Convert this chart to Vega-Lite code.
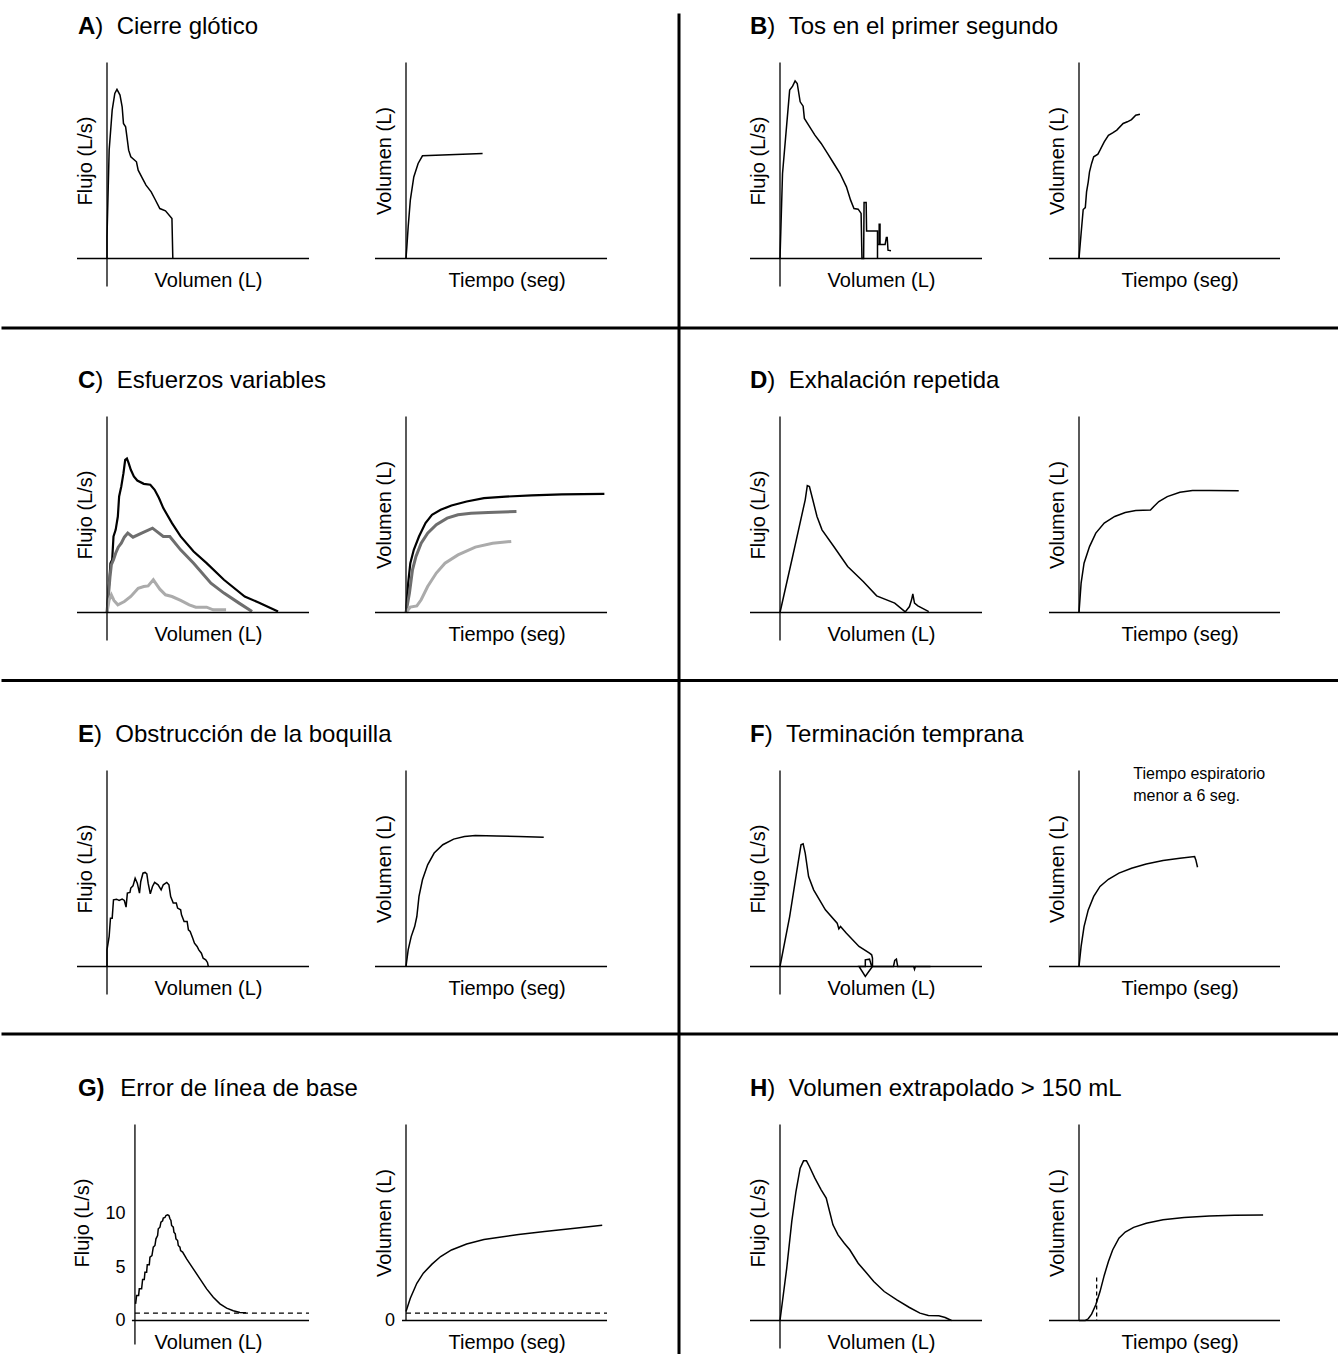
{
"$schema": "https://vega.github.io/schema/vega-lite/v6.json",
"background": "white",
"padding": {"left": 0, "top": 11.5, "right": 0, "bottom": 0},
"columns": 4,
"spacing": {"row": 158, "column": 97},
"bounds": "flush",
"config": {
  "font": "Liberation Sans",
  "view": {"stroke": null},
  "axis": {"domain": false, "ticks": false, "labels": false, "grid": false, "titleFontSize": 20, "titleFontWeight": "normal", "titleColor": "black", "titlePadding": 12, "minExtent": 0, "labelFontSize": 18, "labelColor": "black", "labelPadding": 10},
  "line": {"color": "black", "strokeWidth": 1.5},
  "rule": {"color": "black", "strokeWidth": 1.3},
  "text": {"color": "black", "align": "left", "baseline": "alphabetic", "fontSize": 24}
},
"datasets": {
  "A1": [{"x":0,"y":0},{"x":0,"y":2.03},{"x":0.064,"y":10.17},{"x":0.154,"y":13.93},{"x":0.232,"y":15.49},{"x":0.296,"y":15.87},{"x":0.386,"y":15.34},{"x":0.45,"y":14.24},{"x":0.489,"y":12.68},{"x":0.553,"y":12.36},{"x":0.605,"y":11.11},{"x":0.643,"y":10.17},{"x":0.707,"y":9.55},{"x":0.875,"y":9.08},{"x":0.926,"y":8.29},{"x":1.029,"y":7.67},{"x":1.158,"y":6.89},{"x":1.312,"y":6.26},{"x":1.415,"y":5.63},{"x":1.569,"y":4.69},{"x":1.737,"y":4.48},{"x":1.929,"y":3.76},{"x":1.955,"y":0}],
  "A2": [{"x":0,"y":0},{"x":0.043,"y":0.48},{"x":0.108,"y":1.29},{"x":0.215,"y":2.38},{"x":0.388,"y":3.33},{"x":0.603,"y":3.88},{"x":0.819,"y":4.19},{"x":3.81,"y":4.29}],
  "B1": [{"x":0,"y":0},{"x":0.075,"y":7.98},{"x":0.287,"y":15.81},{"x":0.375,"y":16.18},{"x":0.449,"y":16.68},{"x":0.512,"y":16.43},{"x":0.599,"y":14.71},{"x":0.687,"y":14.3},{"x":0.724,"y":13.15},{"x":0.849,"y":12.52},{"x":1.036,"y":11.58},{"x":1.223,"y":10.8},{"x":1.411,"y":9.86},{"x":1.598,"y":8.92},{"x":1.785,"y":7.98},{"x":1.973,"y":6.73},{"x":2.097,"y":5.48},{"x":2.197,"y":4.69},{"x":2.322,"y":4.63},{"x":2.409,"y":4.23},{"x":2.434,"y":0},{"x":2.484,"y":0},{"x":2.497,"y":5.26},{"x":2.559,"y":5.26},{"x":2.572,"y":2.57},{"x":2.896,"y":2.57},{"x":2.896,"y":0},{"x":2.896,"y":1.31},{"x":2.946,"y":1.31},{"x":2.946,"y":3.22},{"x":2.971,"y":3.22},{"x":2.971,"y":1.31},{"x":3.121,"y":1.31},{"x":3.159,"y":1.97},{"x":3.184,"y":1.97},{"x":3.208,"y":0.78},{"x":3.296,"y":0.72}],
  "B2": [{"x":0,"y":0},{"x":0.105,"y":1.02},{"x":0.209,"y":2.0},{"x":0.314,"y":2.08},{"x":0.376,"y":2.72},{"x":0.46,"y":3.13},{"x":0.523,"y":3.54},{"x":0.627,"y":3.88},{"x":0.732,"y":4.15},{"x":0.941,"y":4.26},{"x":1.046,"y":4.42},{"x":1.255,"y":4.76},{"x":1.464,"y":5.03},{"x":1.673,"y":5.13},{"x":1.882,"y":5.24},{"x":2.196,"y":5.51},{"x":2.405,"y":5.58},{"x":2.614,"y":5.67},{"x":2.823,"y":5.85},{"x":3.032,"y":5.89}],
  "C1a": [{"x":0,"y":0},{"x":0.064,"y":2.75},{"x":0.103,"y":4.63},{"x":0.154,"y":4.95},{"x":0.193,"y":7.14},{"x":0.257,"y":7.76},{"x":0.322,"y":9.01},{"x":0.36,"y":10.89},{"x":0.424,"y":11.83},{"x":0.489,"y":13.08},{"x":0.54,"y":14.33},{"x":0.592,"y":14.46},{"x":0.643,"y":14.02},{"x":0.707,"y":13.4},{"x":0.798,"y":12.77},{"x":0.9,"y":12.39},{"x":1.093,"y":12.08},{"x":1.286,"y":11.99},{"x":1.415,"y":11.52},{"x":1.544,"y":10.74},{"x":1.672,"y":9.8},{"x":1.93,"y":8.39},{"x":2.187,"y":7.14},{"x":2.573,"y":5.73},{"x":2.959,"y":4.63},{"x":3.473,"y":3.07},{"x":4.091,"y":1.5},{"x":4.502,"y":0.94},{"x":5.081,"y":0.09}],
  "C1b": [{"x":0,"y":0},{"x":0.09,"y":3.38},{"x":0.129,"y":4.48},{"x":0.193,"y":4.95},{"x":0.257,"y":5.57},{"x":0.334,"y":6.13},{"x":0.424,"y":6.51},{"x":0.515,"y":7.07},{"x":0.617,"y":7.45},{"x":0.772,"y":7.07},{"x":1.029,"y":7.45},{"x":1.351,"y":7.92},{"x":1.672,"y":7.14},{"x":1.865,"y":7.14},{"x":2.187,"y":5.88},{"x":2.573,"y":4.63},{"x":3.087,"y":2.75},{"x":3.473,"y":1.82},{"x":3.923,"y":0.88},{"x":4.309,"y":0.09}],
  "C1c": [{"x":0,"y":0},{"x":0.064,"y":1.19},{"x":0.129,"y":1.66},{"x":0.206,"y":1.13},{"x":0.322,"y":0.72},{"x":0.515,"y":1.03},{"x":0.707,"y":1.5},{"x":0.926,"y":2.28},{"x":1.093,"y":2.44},{"x":1.222,"y":2.5},{"x":1.376,"y":3.07},{"x":1.479,"y":2.6},{"x":1.569,"y":2.19},{"x":1.737,"y":1.66},{"x":1.93,"y":1.5},{"x":2.187,"y":1.13},{"x":2.444,"y":0.72},{"x":2.637,"y":0.5},{"x":2.959,"y":0.5},{"x":3.152,"y":0.25},{"x":3.537,"y":0.25}],
  "C2a": [{"x":0,"y":0},{"x":0.108,"y":1.2},{"x":0.215,"y":2.01},{"x":0.388,"y":2.56},{"x":0.646,"y":3.1},{"x":0.97,"y":3.65},{"x":1.293,"y":3.99},{"x":1.724,"y":4.19},{"x":2.262,"y":4.37},{"x":3.017,"y":4.53},{"x":3.878,"y":4.67},{"x":4.956,"y":4.73},{"x":6.249,"y":4.78},{"x":7.757,"y":4.82},{"x":9.869,"y":4.84}],
  "C2b": [{"x":0,"y":0},{"x":0.172,"y":0.79},{"x":0.323,"y":1.74},{"x":0.496,"y":2.29},{"x":0.754,"y":2.83},{"x":1.077,"y":3.24},{"x":1.508,"y":3.58},{"x":2.047,"y":3.85},{"x":2.586,"y":3.99},{"x":3.232,"y":4.05},{"x":4.094,"y":4.08},{"x":5.495,"y":4.12}],
  "C2c": [{"x":0,"y":0},{"x":0.215,"y":0.22},{"x":0.539,"y":0.27},{"x":0.754,"y":0.52},{"x":1.077,"y":1.06},{"x":1.508,"y":1.61},{"x":1.939,"y":2.01},{"x":2.586,"y":2.35},{"x":3.448,"y":2.67},{"x":4.31,"y":2.83},{"x":5.236,"y":2.9}],
  "D1": [{"x":0,"y":0},{"x":0.375,"y":5.26},{"x":0.749,"y":10.58},{"x":0.811,"y":11.92},{"x":0.874,"y":11.83},{"x":0.974,"y":10.58},{"x":1.099,"y":9.01},{"x":1.248,"y":7.76},{"x":1.598,"y":6.2},{"x":2.01,"y":4.32},{"x":2.472,"y":2.91},{"x":2.871,"y":1.56},{"x":3.408,"y":0.88},{"x":3.72,"y":0.06},{"x":3.845,"y":0.56},{"x":3.908,"y":1.19},{"x":3.945,"y":1.75},{"x":3.995,"y":0.88},{"x":4.095,"y":0.63},{"x":4.419,"y":0.09}],
  "D2": [{"x":0,"y":0},{"x":0.105,"y":1.2},{"x":0.251,"y":2.01},{"x":0.523,"y":2.69},{"x":0.836,"y":3.24},{"x":1.255,"y":3.65},{"x":1.777,"y":3.92},{"x":2.3,"y":4.08},{"x":2.823,"y":4.16},{"x":3.555,"y":4.18},{"x":3.722,"y":4.33},{"x":3.973,"y":4.53},{"x":4.391,"y":4.73},{"x":5.019,"y":4.91},{"x":5.646,"y":4.98},{"x":6.483,"y":4.98},{"x":7.946,"y":4.97}],
  "E1": [{"x":0,"y":0},{"x":0,"y":1.56},{"x":0.064,"y":2.82},{"x":0.103,"y":4.54},{"x":0.154,"y":4.54},{"x":0.193,"y":6.26},{"x":0.283,"y":6.32},{"x":0.36,"y":6.2},{"x":0.45,"y":6.32},{"x":0.515,"y":6.2},{"x":0.566,"y":5.57},{"x":0.605,"y":6.89},{"x":0.682,"y":6.95},{"x":0.707,"y":7.36},{"x":0.772,"y":7.57},{"x":0.836,"y":8.29},{"x":0.9,"y":7.82},{"x":0.965,"y":6.89},{"x":1.003,"y":7.98},{"x":1.068,"y":8.76},{"x":1.132,"y":8.83},{"x":1.183,"y":8.7},{"x":1.222,"y":7.82},{"x":1.286,"y":6.82},{"x":1.351,"y":7.51},{"x":1.415,"y":7.89},{"x":1.518,"y":7.67},{"x":1.608,"y":7.2},{"x":1.672,"y":7.67},{"x":1.775,"y":7.89},{"x":1.839,"y":7.67},{"x":1.891,"y":6.57},{"x":1.968,"y":5.95},{"x":2.058,"y":5.95},{"x":2.097,"y":5.48},{"x":2.187,"y":5.32},{"x":2.213,"y":4.85},{"x":2.29,"y":4.23},{"x":2.38,"y":4.23},{"x":2.418,"y":3.44},{"x":2.47,"y":3.29},{"x":2.547,"y":2.66},{"x":2.598,"y":2.19},{"x":2.676,"y":1.88},{"x":2.727,"y":1.56},{"x":2.804,"y":1.25},{"x":2.856,"y":0.78},{"x":2.933,"y":0.63},{"x":2.984,"y":0.38},{"x":3.01,"y":0}],
  "E2": [{"x":0,"y":0},{"x":0.108,"y":0.68},{"x":0.259,"y":1.22},{"x":0.431,"y":1.63},{"x":0.539,"y":2.04},{"x":0.646,"y":2.86},{"x":0.819,"y":3.54},{"x":1.077,"y":4.15},{"x":1.401,"y":4.63},{"x":1.832,"y":4.97},{"x":2.37,"y":5.2},{"x":2.909,"y":5.31},{"x":3.448,"y":5.35},{"x":4.525,"y":5.33},{"x":5.602,"y":5.31},{"x":6.852,"y":5.28}],
  "F1": [{"x":0,"y":0},{"x":0.287,"y":4.69},{"x":0.537,"y":9.7},{"x":0.624,"y":11.42},{"x":0.687,"y":11.52},{"x":0.749,"y":10.64},{"x":0.849,"y":8.45},{"x":0.999,"y":7.2},{"x":1.348,"y":5.32},{"x":1.698,"y":4.07},{"x":1.748,"y":3.54},{"x":1.798,"y":3.76},{"x":1.973,"y":3.13},{"x":2.347,"y":1.88},{"x":2.659,"y":1.25},{"x":2.722,"y":1.1},{"x":2.747,"y":0.78},{"x":2.747,"y":0},{"x":2.659,"y":-0.38},{"x":2.534,"y":-0.94},{"x":2.347,"y":0},{"x":2.534,"y":0},{"x":2.534,"y":0.63},{"x":2.659,"y":0.69},{"x":2.722,"y":0},{"x":3.371,"y":0},{"x":3.408,"y":0.56},{"x":3.458,"y":0.69},{"x":3.496,"y":0},{"x":3.97,"y":0},{"x":3.995,"y":-0.25},{"x":4.02,"y":0},{"x":4.469,"y":0}],
  "F2": [{"x":0,"y":0},{"x":0.105,"y":0.82},{"x":0.251,"y":1.63},{"x":0.46,"y":2.31},{"x":0.732,"y":2.86},{"x":1.046,"y":3.27},{"x":1.464,"y":3.56},{"x":1.987,"y":3.81},{"x":2.614,"y":4.01},{"x":3.346,"y":4.18},{"x":4.182,"y":4.33},{"x":5.019,"y":4.42},{"x":5.751,"y":4.49},{"x":5.813,"y":4.35},{"x":5.897,"y":4.05}],
  "G1": [{"x":0.02,"y":1.56},{"x":0.05,"y":2.35},{"x":0.109,"y":2.35},{"x":0.129,"y":2.97},{"x":0.198,"y":2.97},{"x":0.228,"y":3.85},{"x":0.277,"y":3.85},{"x":0.297,"y":4.54},{"x":0.347,"y":4.54},{"x":0.366,"y":5.23},{"x":0.426,"y":5.23},{"x":0.446,"y":5.95},{"x":0.505,"y":6.1},{"x":0.545,"y":6.89},{"x":0.594,"y":7.04},{"x":0.624,"y":7.67},{"x":0.673,"y":7.98},{"x":0.693,"y":8.61},{"x":0.743,"y":8.76},{"x":0.772,"y":9.23},{"x":0.822,"y":9.36},{"x":0.842,"y":9.61},{"x":0.891,"y":9.67},{"x":0.921,"y":9.86},{"x":0.97,"y":9.92},{"x":1.01,"y":9.86},{"x":1.04,"y":9.55},{"x":1.069,"y":9.39},{"x":1.089,"y":8.92},{"x":1.139,"y":8.76},{"x":1.158,"y":8.29},{"x":1.198,"y":8.14},{"x":1.218,"y":7.67},{"x":1.267,"y":7.51},{"x":1.287,"y":7.04},{"x":1.337,"y":6.89},{"x":1.356,"y":6.57},{"x":1.416,"y":6.42},{"x":1.535,"y":5.79},{"x":1.733,"y":4.85},{"x":1.931,"y":3.91},{"x":2.129,"y":2.97},{"x":2.327,"y":2.19},{"x":2.525,"y":1.56},{"x":2.723,"y":1.16},{"x":2.921,"y":0.91},{"x":3.119,"y":0.75},{"x":3.297,"y":0.72}],
  "G2": [{"x":0,"y":0.37},{"x":0.215,"y":0.91},{"x":0.539,"y":1.52},{"x":0.862,"y":1.93},{"x":1.293,"y":2.3},{"x":1.724,"y":2.61},{"x":2.262,"y":2.88},{"x":3.017,"y":3.12},{"x":3.878,"y":3.31},{"x":4.74,"y":3.41},{"x":5.602,"y":3.51},{"x":6.895,"y":3.63},{"x":8.403,"y":3.77},{"x":9.761,"y":3.89}],
  "H1": [{"x":0,"y":0},{"x":0.2,"y":4.91},{"x":0.35,"y":9.3},{"x":0.474,"y":12.11},{"x":0.599,"y":14.3},{"x":0.699,"y":14.99},{"x":0.787,"y":14.99},{"x":0.874,"y":14.46},{"x":1.036,"y":13.36},{"x":1.223,"y":12.27},{"x":1.373,"y":11.49},{"x":1.473,"y":10.23},{"x":1.573,"y":8.98},{"x":1.723,"y":8.04},{"x":1.91,"y":7.26},{"x":2.072,"y":6.64},{"x":2.197,"y":6.01},{"x":2.322,"y":5.38},{"x":2.534,"y":4.6},{"x":2.784,"y":3.66},{"x":3.096,"y":2.72},{"x":3.471,"y":1.94},{"x":3.845,"y":1.22},{"x":4.157,"y":0.69},{"x":4.407,"y":0.47},{"x":4.719,"y":0.44},{"x":4.906,"y":0.28},{"x":5.094,"y":0}],
  "H2": [{"x":0,"y":0},{"x":0.314,"y":0},{"x":0.46,"y":0.07},{"x":0.627,"y":0.26},{"x":0.836,"y":0.64},{"x":1.046,"y":1.18},{"x":1.255,"y":1.84},{"x":1.464,"y":2.41},{"x":1.673,"y":2.88},{"x":1.987,"y":3.36},{"x":2.3,"y":3.61},{"x":2.719,"y":3.8},{"x":3.346,"y":3.97},{"x":4.182,"y":4.11},{"x":5.228,"y":4.2},{"x":6.483,"y":4.27},{"x":7.737,"y":4.3},{"x":9.159,"y":4.31}]
},
"concat": [
  {"width": 202, "height": 196, "data": {"values": [{}]}, "layer": [
    {"data": {"name": "A1"}, "mark": "line", "encoding": {"x": {"field": "x", "type": "quantitative", "scale": {"domain": [0, 6], "nice": false, "zero": false}, "axis": {"title": "Volumen (L)"}}, "y": {"field": "y", "type": "quantitative", "scale": {"domain": [0, 18.4], "nice": false, "zero": false}, "axis": {"title": "Flujo (L/s)"}}, "order": {"value": null}}},
    {"mark": {"type": "rule", "y2Offset": 28}, "encoding": {"x": {"datum": 0, "type": "quantitative"}, "y": {"datum": 18.4, "type": "quantitative"}, "y2": {"datum": 0}}},
    {"mark": {"type": "rule", "xOffset": -30}, "encoding": {"x": {"datum": 0, "type": "quantitative"}, "x2": {"datum": 6}, "y": {"datum": 0, "type": "quantitative"}}},
    {"mark": {"type": "text", "text": "A", "fontWeight": "bold", "dx": -29, "dy": -29}, "encoding": {"x": {"datum": 0, "type": "quantitative"}, "y": {"datum": 18.4, "type": "quantitative"}}},
    {"mark": {"type": "text", "text": ")\u00a0\u00a0Cierre glótico", "dx": -11.7, "dy": -29}, "encoding": {"x": {"datum": 0, "type": "quantitative"}, "y": {"datum": 18.4, "type": "quantitative"}}},
    {"mark": {"type": "rule", "strokeWidth": 3, "xOffset": -105.5, "x2Offset": 1029, "yOffset": 69.5}, "encoding": {"x": {"datum": 0, "type": "quantitative"}, "x2": {"datum": 6}, "y": {"datum": 0, "type": "quantitative"}}}
  ]},
  {"width": 277, "height": 196, "data": {"values": [{}]}, "layer": [
    {"data": {"name": "A2"}, "mark": "line", "encoding": {"x": {"field": "x", "type": "quantitative", "scale": {"domain": [0, 13.78], "nice": false, "zero": false}, "axis": {"title": "Tiempo (seg)", "titleX": 100.5}}, "y": {"field": "y", "type": "quantitative", "scale": {"domain": [0, 8], "nice": false, "zero": false}, "axis": {"title": "Volumen (L)"}}, "order": {"value": null}}},
    {"mark": "rule", "encoding": {"x": {"datum": 0, "type": "quantitative"}, "y": {"datum": 8, "type": "quantitative"}, "y2": {"datum": 0}}},
    {"mark": {"type": "rule", "xOffset": -31}, "encoding": {"x": {"datum": 0, "type": "quantitative"}, "x2": {"datum": 10}, "y": {"datum": 0, "type": "quantitative"}}}
  ]},
  {"width": 202, "height": 196, "data": {"values": [{}]}, "layer": [
    {"data": {"name": "B1"}, "mark": "line", "encoding": {"x": {"field": "x", "type": "quantitative", "scale": {"domain": [0, 6], "nice": false, "zero": false}, "axis": {"title": "Volumen (L)"}}, "y": {"field": "y", "type": "quantitative", "scale": {"domain": [0, 18.4], "nice": false, "zero": false}, "axis": {"title": "Flujo (L/s)"}}, "order": {"value": null}}},
    {"mark": {"type": "rule", "y2Offset": 28}, "encoding": {"x": {"datum": 0, "type": "quantitative"}, "y": {"datum": 18.4, "type": "quantitative"}, "y2": {"datum": 0}}},
    {"mark": {"type": "rule", "xOffset": -30}, "encoding": {"x": {"datum": 0, "type": "quantitative"}, "x2": {"datum": 6}, "y": {"datum": 0, "type": "quantitative"}}},
    {"mark": {"type": "text", "text": "B", "fontWeight": "bold", "dx": -30, "dy": -29}, "encoding": {"x": {"datum": 0, "type": "quantitative"}, "y": {"datum": 18.4, "type": "quantitative"}}},
    {"mark": {"type": "text", "text": ")\u00a0\u00a0Tos en el primer segundo", "dx": -12.7, "dy": -29}, "encoding": {"x": {"datum": 0, "type": "quantitative"}, "y": {"datum": 18.4, "type": "quantitative"}}},
    {"mark": {"type": "rule", "strokeWidth": 3, "xOffset": -101, "yOffset": -49, "y2Offset": 1110}, "encoding": {"x": {"datum": 0, "type": "quantitative"}, "y": {"datum": 18.4, "type": "quantitative"}, "y2": {"datum": 0}}}
  ]},
  {"width": 201, "height": 196, "data": {"values": [{}]}, "layer": [
    {"data": {"name": "B2"}, "mark": "line", "encoding": {"x": {"field": "x", "type": "quantitative", "scale": {"domain": [0, 10], "nice": false, "zero": false}, "axis": {"title": "Tiempo (seg)"}}, "y": {"field": "y", "type": "quantitative", "scale": {"domain": [0, 8], "nice": false, "zero": false}, "axis": {"title": "Volumen (L)"}}, "order": {"value": null}}},
    {"mark": "rule", "encoding": {"x": {"datum": 0, "type": "quantitative"}, "y": {"datum": 8, "type": "quantitative"}, "y2": {"datum": 0}}},
    {"mark": {"type": "rule", "xOffset": -30}, "encoding": {"x": {"datum": 0, "type": "quantitative"}, "x2": {"datum": 10}, "y": {"datum": 0, "type": "quantitative"}}}
  ]},
  {"width": 202, "height": 196, "data": {"values": [{}]}, "layer": [
    {"data": {"name": "C1a"}, "mark": {"type": "line", "strokeWidth": 2.2, "color": "#000000"}, "encoding": {"x": {"field": "x", "type": "quantitative", "scale": {"domain": [0, 6], "nice": false, "zero": false}, "axis": {"title": "Volumen (L)"}}, "y": {"field": "y", "type": "quantitative", "scale": {"domain": [0, 18.4], "nice": false, "zero": false}, "axis": {"title": "Flujo (L/s)"}}, "order": {"value": null}}},
    {"data": {"name": "C1b"}, "mark": {"type": "line", "strokeWidth": 3, "color": "#6e6e6e"}, "encoding": {"x": {"field": "x", "type": "quantitative"}, "y": {"field": "y", "type": "quantitative"}, "order": {"value": null}}},
    {"data": {"name": "C1c"}, "mark": {"type": "line", "strokeWidth": 3, "color": "#ababab"}, "encoding": {"x": {"field": "x", "type": "quantitative"}, "y": {"field": "y", "type": "quantitative"}, "order": {"value": null}}},
    {"mark": {"type": "rule", "y2Offset": 28}, "encoding": {"x": {"datum": 0, "type": "quantitative"}, "y": {"datum": 18.4, "type": "quantitative"}, "y2": {"datum": 0}}},
    {"mark": {"type": "rule", "xOffset": -30}, "encoding": {"x": {"datum": 0, "type": "quantitative"}, "x2": {"datum": 6}, "y": {"datum": 0, "type": "quantitative"}}},
    {"mark": {"type": "text", "text": "C", "fontWeight": "bold", "dx": -29, "dy": -29}, "encoding": {"x": {"datum": 0, "type": "quantitative"}, "y": {"datum": 18.4, "type": "quantitative"}}},
    {"mark": {"type": "text", "text": ")\u00a0\u00a0Esfuerzos variables", "dx": -11.7, "dy": -29}, "encoding": {"x": {"datum": 0, "type": "quantitative"}, "y": {"datum": 18.4, "type": "quantitative"}}},
    {"mark": {"type": "rule", "strokeWidth": 3, "xOffset": -105.5, "x2Offset": 1029, "yOffset": 68}, "encoding": {"x": {"datum": 0, "type": "quantitative"}, "x2": {"datum": 6}, "y": {"datum": 0, "type": "quantitative"}}}
  ]},
  {"width": 277, "height": 196, "data": {"values": [{}]}, "layer": [
    {"data": {"name": "C2a"}, "mark": {"type": "line", "strokeWidth": 2.2, "color": "#000000"}, "encoding": {"x": {"field": "x", "type": "quantitative", "scale": {"domain": [0, 13.78], "nice": false, "zero": false}, "axis": {"title": "Tiempo (seg)", "titleX": 100.5}}, "y": {"field": "y", "type": "quantitative", "scale": {"domain": [0, 8], "nice": false, "zero": false}, "axis": {"title": "Volumen (L)"}}, "order": {"value": null}}},
    {"data": {"name": "C2b"}, "mark": {"type": "line", "strokeWidth": 3, "color": "#6e6e6e"}, "encoding": {"x": {"field": "x", "type": "quantitative"}, "y": {"field": "y", "type": "quantitative"}, "order": {"value": null}}},
    {"data": {"name": "C2c"}, "mark": {"type": "line", "strokeWidth": 3, "color": "#ababab"}, "encoding": {"x": {"field": "x", "type": "quantitative"}, "y": {"field": "y", "type": "quantitative"}, "order": {"value": null}}},
    {"mark": "rule", "encoding": {"x": {"datum": 0, "type": "quantitative"}, "y": {"datum": 8, "type": "quantitative"}, "y2": {"datum": 0}}},
    {"mark": {"type": "rule", "xOffset": -31}, "encoding": {"x": {"datum": 0, "type": "quantitative"}, "x2": {"datum": 10}, "y": {"datum": 0, "type": "quantitative"}}}
  ]},
  {"width": 202, "height": 196, "data": {"values": [{}]}, "layer": [
    {"data": {"name": "D1"}, "mark": "line", "encoding": {"x": {"field": "x", "type": "quantitative", "scale": {"domain": [0, 6], "nice": false, "zero": false}, "axis": {"title": "Volumen (L)"}}, "y": {"field": "y", "type": "quantitative", "scale": {"domain": [0, 18.4], "nice": false, "zero": false}, "axis": {"title": "Flujo (L/s)"}}, "order": {"value": null}}},
    {"mark": {"type": "rule", "y2Offset": 28}, "encoding": {"x": {"datum": 0, "type": "quantitative"}, "y": {"datum": 18.4, "type": "quantitative"}, "y2": {"datum": 0}}},
    {"mark": {"type": "rule", "xOffset": -30}, "encoding": {"x": {"datum": 0, "type": "quantitative"}, "x2": {"datum": 6}, "y": {"datum": 0, "type": "quantitative"}}},
    {"mark": {"type": "text", "text": "D", "fontWeight": "bold", "dx": -30, "dy": -29}, "encoding": {"x": {"datum": 0, "type": "quantitative"}, "y": {"datum": 18.4, "type": "quantitative"}}},
    {"mark": {"type": "text", "text": ")\u00a0\u00a0Exhalación repetida", "dx": -12.7, "dy": -29}, "encoding": {"x": {"datum": 0, "type": "quantitative"}, "y": {"datum": 18.4, "type": "quantitative"}}}
  ]},
  {"width": 201, "height": 196, "data": {"values": [{}]}, "layer": [
    {"data": {"name": "D2"}, "mark": "line", "encoding": {"x": {"field": "x", "type": "quantitative", "scale": {"domain": [0, 10], "nice": false, "zero": false}, "axis": {"title": "Tiempo (seg)"}}, "y": {"field": "y", "type": "quantitative", "scale": {"domain": [0, 8], "nice": false, "zero": false}, "axis": {"title": "Volumen (L)"}}, "order": {"value": null}}},
    {"mark": "rule", "encoding": {"x": {"datum": 0, "type": "quantitative"}, "y": {"datum": 8, "type": "quantitative"}, "y2": {"datum": 0}}},
    {"mark": {"type": "rule", "xOffset": -30}, "encoding": {"x": {"datum": 0, "type": "quantitative"}, "x2": {"datum": 10}, "y": {"datum": 0, "type": "quantitative"}}}
  ]},
  {"width": 202, "height": 196, "data": {"values": [{}]}, "layer": [
    {"data": {"name": "E1"}, "mark": "line", "encoding": {"x": {"field": "x", "type": "quantitative", "scale": {"domain": [0, 6], "nice": false, "zero": false}, "axis": {"title": "Volumen (L)"}}, "y": {"field": "y", "type": "quantitative", "scale": {"domain": [0, 18.4], "nice": false, "zero": false}, "axis": {"title": "Flujo (L/s)"}}, "order": {"value": null}}},
    {"mark": {"type": "rule", "y2Offset": 28}, "encoding": {"x": {"datum": 0, "type": "quantitative"}, "y": {"datum": 18.4, "type": "quantitative"}, "y2": {"datum": 0}}},
    {"mark": {"type": "rule", "xOffset": -30}, "encoding": {"x": {"datum": 0, "type": "quantitative"}, "x2": {"datum": 6}, "y": {"datum": 0, "type": "quantitative"}}},
    {"mark": {"type": "text", "text": "E", "fontWeight": "bold", "dx": -29, "dy": -29}, "encoding": {"x": {"datum": 0, "type": "quantitative"}, "y": {"datum": 18.4, "type": "quantitative"}}},
    {"mark": {"type": "text", "text": ")\u00a0\u00a0Obstrucción de la boquilla", "dx": -13, "dy": -29}, "encoding": {"x": {"datum": 0, "type": "quantitative"}, "y": {"datum": 18.4, "type": "quantitative"}}},
    {"mark": {"type": "rule", "strokeWidth": 3, "xOffset": -105.5, "x2Offset": 1029, "yOffset": 67.5}, "encoding": {"x": {"datum": 0, "type": "quantitative"}, "x2": {"datum": 6}, "y": {"datum": 0, "type": "quantitative"}}}
  ]},
  {"width": 277, "height": 196, "data": {"values": [{}]}, "layer": [
    {"data": {"name": "E2"}, "mark": "line", "encoding": {"x": {"field": "x", "type": "quantitative", "scale": {"domain": [0, 13.78], "nice": false, "zero": false}, "axis": {"title": "Tiempo (seg)", "titleX": 100.5}}, "y": {"field": "y", "type": "quantitative", "scale": {"domain": [0, 8], "nice": false, "zero": false}, "axis": {"title": "Volumen (L)"}}, "order": {"value": null}}},
    {"mark": "rule", "encoding": {"x": {"datum": 0, "type": "quantitative"}, "y": {"datum": 8, "type": "quantitative"}, "y2": {"datum": 0}}},
    {"mark": {"type": "rule", "xOffset": -31}, "encoding": {"x": {"datum": 0, "type": "quantitative"}, "x2": {"datum": 10}, "y": {"datum": 0, "type": "quantitative"}}}
  ]},
  {"width": 202, "height": 196, "data": {"values": [{}]}, "layer": [
    {"data": {"name": "F1"}, "mark": "line", "encoding": {"x": {"field": "x", "type": "quantitative", "scale": {"domain": [0, 6], "nice": false, "zero": false}, "axis": {"title": "Volumen (L)"}}, "y": {"field": "y", "type": "quantitative", "scale": {"domain": [0, 18.4], "nice": false, "zero": false}, "axis": {"title": "Flujo (L/s)"}}, "order": {"value": null}}},
    {"mark": {"type": "rule", "y2Offset": 28}, "encoding": {"x": {"datum": 0, "type": "quantitative"}, "y": {"datum": 18.4, "type": "quantitative"}, "y2": {"datum": 0}}},
    {"mark": {"type": "rule", "xOffset": -30}, "encoding": {"x": {"datum": 0, "type": "quantitative"}, "x2": {"datum": 6}, "y": {"datum": 0, "type": "quantitative"}}},
    {"mark": {"type": "text", "text": "F", "fontWeight": "bold", "dx": -30, "dy": -29}, "encoding": {"x": {"datum": 0, "type": "quantitative"}, "y": {"datum": 18.4, "type": "quantitative"}}},
    {"mark": {"type": "text", "text": ")\u00a0\u00a0Terminación temprana", "dx": -15.3, "dy": -29}, "encoding": {"x": {"datum": 0, "type": "quantitative"}, "y": {"datum": 18.4, "type": "quantitative"}}}
  ]},
  {"width": 201, "height": 196, "data": {"values": [{}]}, "layer": [
    {"data": {"name": "F2"}, "mark": "line", "encoding": {"x": {"field": "x", "type": "quantitative", "scale": {"domain": [0, 10], "nice": false, "zero": false}, "axis": {"title": "Tiempo (seg)"}}, "y": {"field": "y", "type": "quantitative", "scale": {"domain": [0, 8], "nice": false, "zero": false}, "axis": {"title": "Volumen (L)"}}, "order": {"value": null}}},
    {"mark": "rule", "encoding": {"x": {"datum": 0, "type": "quantitative"}, "y": {"datum": 8, "type": "quantitative"}, "y2": {"datum": 0}}},
    {"mark": {"type": "rule", "xOffset": -30}, "encoding": {"x": {"datum": 0, "type": "quantitative"}, "x2": {"datum": 10}, "y": {"datum": 0, "type": "quantitative"}}},
    {"mark": {"type": "text", "text": ["Tiempo espiratorio", "menor a 6 seg."], "fontSize": 16, "lineHeight": 22}, "encoding": {"x": {"datum": 2.7, "type": "quantitative"}, "y": {"datum": 7.67, "type": "quantitative"}}}
  ]},
  {"width": 202, "height": 196, "data": {"values": [{}]}, "layer": [
    {"data": {"name": "G1"}, "mark": "line", "encoding": {"x": {"field": "x", "type": "quantitative", "scale": {"domain": [-0.83, 5.17], "nice": false, "zero": false}, "axis": {"title": "Volumen (L)"}}, "y": {"field": "y", "type": "quantitative", "scale": {"domain": [0, 18.4], "nice": false, "zero": false}, "axis": {"title": "Flujo (L/s)", "labels": true, "values": [0, 5, 10], "offset": -28}}, "order": {"value": null}}},
    {"mark": {"type": "rule", "y2Offset": 24}, "encoding": {"x": {"datum": 0, "type": "quantitative"}, "y": {"datum": 18.4, "type": "quantitative"}, "y2": {"datum": 0}}},
    {"mark": {"type": "rule", "xOffset": -3}, "encoding": {"x": {"datum": 0, "type": "quantitative"}, "x2": {"datum": 5.17}, "y": {"datum": 0, "type": "quantitative"}}},
    {"mark": {"type": "rule", "strokeDash": [5, 4]}, "encoding": {"x": {"datum": 0, "type": "quantitative"}, "x2": {"datum": 5.17}, "y": {"datum": 0.7, "type": "quantitative"}}},
    {"mark": {"type": "text", "text": "G)", "fontWeight": "bold", "dx": -57, "dy": -29}, "encoding": {"x": {"datum": 0, "type": "quantitative"}, "y": {"datum": 18.4, "type": "quantitative"}}},
    {"mark": {"type": "text", "text": "Error de línea de base", "dx": -14.6, "dy": -29}, "encoding": {"x": {"datum": 0, "type": "quantitative"}, "y": {"datum": 18.4, "type": "quantitative"}}}
  ]},
  {"width": 277, "height": 196, "data": {"values": [{}]}, "layer": [
    {"data": {"name": "G2"}, "mark": "line", "encoding": {"x": {"field": "x", "type": "quantitative", "scale": {"domain": [0, 13.78], "nice": false, "zero": false}, "axis": {"title": "Tiempo (seg)", "titleX": 100.5}}, "y": {"field": "y", "type": "quantitative", "scale": {"domain": [0, 8], "nice": false, "zero": false}, "axis": {"title": "Volumen (L)"}}, "order": {"value": null}}},
    {"mark": "rule", "encoding": {"x": {"datum": 0, "type": "quantitative"}, "y": {"datum": 8, "type": "quantitative"}, "y2": {"datum": 0}}},
    {"mark": {"type": "rule", "xOffset": -4}, "encoding": {"x": {"datum": 0, "type": "quantitative"}, "x2": {"datum": 10}, "y": {"datum": 0, "type": "quantitative"}}},
    {"mark": {"type": "rule", "strokeDash": [5, 4]}, "encoding": {"x": {"datum": 0, "type": "quantitative"}, "x2": {"datum": 10}, "y": {"datum": 0.3, "type": "quantitative"}}},
    {"mark": {"type": "text", "text": "0", "fontSize": 18, "align": "right", "baseline": "middle", "dx": -11}, "encoding": {"x": {"datum": 0, "type": "quantitative"}, "y": {"datum": 0, "type": "quantitative"}}}
  ]},
  {"width": 202, "height": 196, "data": {"values": [{}]}, "layer": [
    {"data": {"name": "H1"}, "mark": "line", "encoding": {"x": {"field": "x", "type": "quantitative", "scale": {"domain": [0, 6], "nice": false, "zero": false}, "axis": {"title": "Volumen (L)"}}, "y": {"field": "y", "type": "quantitative", "scale": {"domain": [0, 18.4], "nice": false, "zero": false}, "axis": {"title": "Flujo (L/s)"}}, "order": {"value": null}}},
    {"mark": {"type": "rule", "y2Offset": 28}, "encoding": {"x": {"datum": 0, "type": "quantitative"}, "y": {"datum": 18.4, "type": "quantitative"}, "y2": {"datum": 0}}},
    {"mark": {"type": "rule", "xOffset": -30}, "encoding": {"x": {"datum": 0, "type": "quantitative"}, "x2": {"datum": 6}, "y": {"datum": 0, "type": "quantitative"}}},
    {"mark": {"type": "text", "text": "H", "fontWeight": "bold", "dx": -30, "dy": -29}, "encoding": {"x": {"datum": 0, "type": "quantitative"}, "y": {"datum": 18.4, "type": "quantitative"}}},
    {"mark": {"type": "text", "text": ")\u00a0\u00a0Volumen extrapolado > 150 mL", "dx": -12.7, "dy": -29}, "encoding": {"x": {"datum": 0, "type": "quantitative"}, "y": {"datum": 18.4, "type": "quantitative"}}}
  ]},
  {"width": 201, "height": 196, "data": {"values": [{}]}, "layer": [
    {"data": {"name": "H2"}, "mark": "line", "encoding": {"x": {"field": "x", "type": "quantitative", "scale": {"domain": [0, 10], "nice": false, "zero": false}, "axis": {"title": "Tiempo (seg)"}}, "y": {"field": "y", "type": "quantitative", "scale": {"domain": [0, 8], "nice": false, "zero": false}, "axis": {"title": "Volumen (L)"}}, "order": {"value": null}}},
    {"mark": "rule", "encoding": {"x": {"datum": 0, "type": "quantitative"}, "y": {"datum": 8, "type": "quantitative"}, "y2": {"datum": 0}}},
    {"mark": {"type": "rule", "xOffset": -30}, "encoding": {"x": {"datum": 0, "type": "quantitative"}, "x2": {"datum": 10}, "y": {"datum": 0, "type": "quantitative"}}},
    {"mark": {"type": "rule", "strokeDash": [4, 3]}, "encoding": {"x": {"datum": 0.878, "type": "quantitative"}, "y": {"datum": 1.76, "type": "quantitative"}, "y2": {"datum": 0}}}
  ]}
]
}
